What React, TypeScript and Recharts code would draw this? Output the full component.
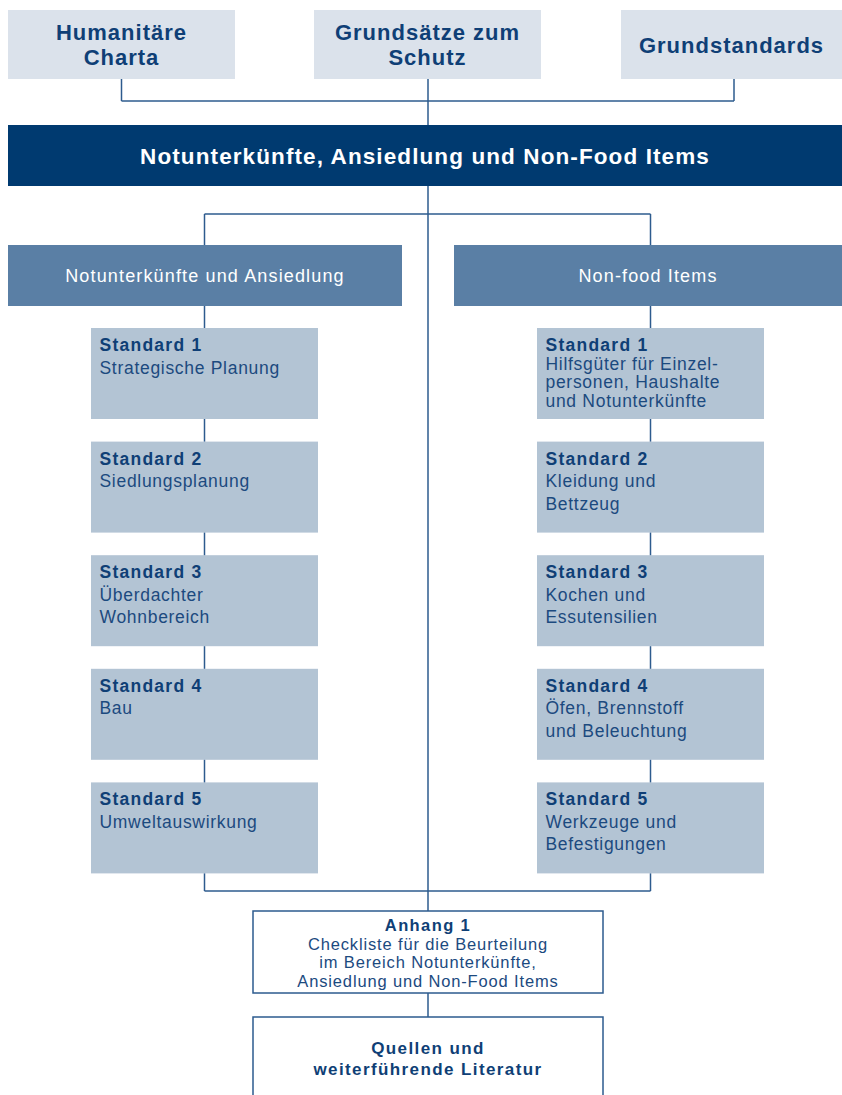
import { ComposedChart, ReferenceArea, ReferenceLine, XAxis, YAxis } from 'recharts';

// texts of the diagram
const topLabels = [['Humanitäre', 'Charta'], ['Grundsätze zum', 'Schutz'], ['Grundstandards']];
const mainTitle = 'Notunterkünfte, Ansiedlung und Non-Food Items';
const sectionTitles = ['Notunterkünfte und Ansiedlung', 'Non-food Items'];
const standardNames = ['Standard 1', 'Standard 2', 'Standard 3', 'Standard 4', 'Standard 5'];
const shelterStandards = [
  ['Strategische Planung'],
  ['Siedlungsplanung'],
  ['Überdachter', 'Wohnbereich'],
  ['Bau'],
  ['Umweltauswirkung'],
];
const nfiStandards = [
  ['Hilfsgüter für Einzel-', 'personen, Haushalte', 'und Notunterkünfte'],
  ['Kleidung und', 'Bettzeug'],
  ['Kochen und', 'Essutensilien'],
  ['Öfen, Brennstoff', 'und Beleuchtung'],
  ['Werkzeuge und', 'Befestigungen'],
];
const annexTitle = 'Anhang 1';
const annexLines = ['Checkliste für die Beurteilung', 'im Bereich Notunterkünfte,', 'Ansiedlung und Non-Food Items'];
const sourceLines = ['Quellen und', 'weiterführende Literatur'];

const DARK = '#003a70';
const TEXT = '#0f3f76';
const SUBTEXT = '#1c4a7f';
const LINE = '#2d5b8e';
const FONT = '"Liberation Sans", Arial, Helvetica, sans-serif';

const W = 842;
const H = 1095;

// layout (diagram units)
const topCols = [[8, 235], [314, 541], [621, 842]];
const sectionCols = [[8, 402], [454, 842]];
const stdCols = [[91, 318], [537, 764]];
const branchX = [204.5, 650.5];
const trunkX = 428;
const stdTop = (i) => 328 + i * 113.6;
const STD_H = 91;

const nodes = [
  ...topLabels.map((lines, i) => ({ kind: 'top', x1: topCols[i][0], x2: topCols[i][1], y1: 10, y2: 79, lines })),
  { kind: 'banner', x1: 8, x2: 842, y1: 125, y2: 186, lines: [mainTitle] },
  ...sectionTitles.map((t, i) => ({ kind: 'section', x1: sectionCols[i][0], x2: sectionCols[i][1], y1: 245, y2: 306, lines: [t] })),
  ...[shelterStandards, nfiStandards].flatMap((list, c) =>
    list.map((lines, i) => ({
      kind: 'std',
      x1: stdCols[c][0],
      x2: stdCols[c][1],
      y1: stdTop(i),
      y2: stdTop(i) + STD_H,
      title: standardNames[i],
      lines,
    }))
  ),
  { kind: 'annex', x1: 253, x2: 603, y1: 911, y2: 993, title: annexTitle, lines: annexLines },
  { kind: 'sources', x1: 253, x2: 603, y1: 1017, y2: 1110, lines: sourceLines },
];

const segments = [
  [[121.5, 79], [121.5, 101]],
  [[734, 79], [734, 101]],
  [[121.5, 101], [734, 101]],
  [[trunkX, 79], [trunkX, 125]],
  [[trunkX, 186], [trunkX, 911]],
  [[branchX[0], 214], [branchX[1], 214]],
  ...branchX.flatMap((bx) => [
    [[bx, 214], [bx, 245]],
    [[bx, 306], [bx, stdTop(0)]],
    ...[0, 1, 2, 3].map((i) => [[bx, stdTop(i) + STD_H], [bx, stdTop(i + 1)]]),
    [[bx, stdTop(4) + STD_H], [bx, 891]],
  ]),
  [[branchX[0], 891], [branchX[1], 891]],
  [[trunkX, 993], [trunkX, 1017]],
];

const BoxShape = ({ x, y, width, height, node }) => {
  const cx = x + width / 2;
  const lines = node.lines;
  let fill = '#dbe2eb';
  let stroke = 'none';
  let content = null;

  if (node.kind === 'top') {
    const first = y + height / 2 + 8 - ((lines.length - 1) * 25.5) / 2;
    content = lines.map((l, k) => (
      <text key={k} x={cx} y={first + k * 25.5} textAnchor="middle" fontSize={22} letterSpacing={1} fontWeight="bold" fill={TEXT} fontFamily={FONT}>
        {l}
      </text>
    ));
  } else if (node.kind === 'banner') {
    fill = DARK;
    content = (
      <text x={cx} y={y + 39} textAnchor="middle" fontSize={22.5} letterSpacing={1.1} fontWeight="bold" fill="#ffffff" fontFamily={FONT}>
        {lines[0]}
      </text>
    );
  } else if (node.kind === 'section') {
    fill = '#5a7fa5';
    content = (
      <text x={cx} y={y + 37} textAnchor="middle" fontSize={18} letterSpacing={1.15} fill="#ffffff" fontFamily={FONT}>
        {lines[0]}
      </text>
    );
  } else if (node.kind === 'std') {
    fill = '#b3c4d4';
    const gap = lines.length > 2 ? 18.6 : 22.5;
    content = (
      <g fontFamily={FONT} fontSize={17.5}>
        <text x={x + 8.5} y={y + 23} fontWeight="bold" letterSpacing={1.25} fill={TEXT}>
          {node.title}
        </text>
        {lines.map((l, k) => (
          <text key={k} x={x + 8.5} y={y + 23 + (k + 1) * gap} letterSpacing={0.7} fill={SUBTEXT}>
            {l}
          </text>
        ))}
      </g>
    );
  } else if (node.kind === 'annex') {
    fill = '#ffffff';
    stroke = LINE;
    content = (
      <g fontFamily={FONT} fontSize={16.5} textAnchor="middle">
        <text x={cx} y={y + 20} fontWeight="bold" letterSpacing={1.4} fill={TEXT}>
          {node.title}
        </text>
        {lines.map((l, k) => (
          <text key={k} x={cx} y={y + 20 + (k + 1) * 18.7} letterSpacing={0.85} fill={SUBTEXT}>
            {l}
          </text>
        ))}
      </g>
    );
  } else {
    fill = '#ffffff';
    stroke = LINE;
    content = lines.map((l, k) => (
      <text key={k} x={cx} y={y + 37 + k * 21} textAnchor="middle" fontSize={17} letterSpacing={1.4} fontWeight="bold" fill={TEXT} fontFamily={FONT}>
        {l}
      </text>
    ));
  }

  return (
    <g>
      <rect x={x} y={y} width={width} height={height} fill={fill} stroke={stroke} strokeWidth={1.5} />
      {content}
    </g>
  );
};

export default function App() {
  return (
    <div style={{ position: 'absolute', left: 0, top: 0, width: W, height: H, overflow: 'hidden', background: '#ffffff' }}>
      <ComposedChart width={W} height={H} data={[]} margin={{ top: 0, right: 0, bottom: 0, left: 0 }}>
        <XAxis type="number" dataKey="x" domain={[0, W]} hide allowDataOverflow />
        <YAxis type="number" dataKey="y" domain={[0, H]} reversed hide allowDataOverflow />
        {segments.map((s, i) => (
          <ReferenceLine
            key={`l${i}`}
            segment={[{ x: s[0][0], y: s[0][1] }, { x: s[1][0], y: s[1][1] }]}
            stroke={LINE}
            strokeWidth={1.5}
            ifOverflow="visible"
          />
        ))}
        {nodes.map((n, i) => (
          <ReferenceArea
            key={`b${i}`}
            x1={n.x1}
            x2={n.x2}
            y1={n.y1}
            y2={n.y2}
            ifOverflow="visible"
            shape={(p) => <BoxShape {...p} node={n} />}
          />
        ))}
      </ComposedChart>
    </div>
  );
}
